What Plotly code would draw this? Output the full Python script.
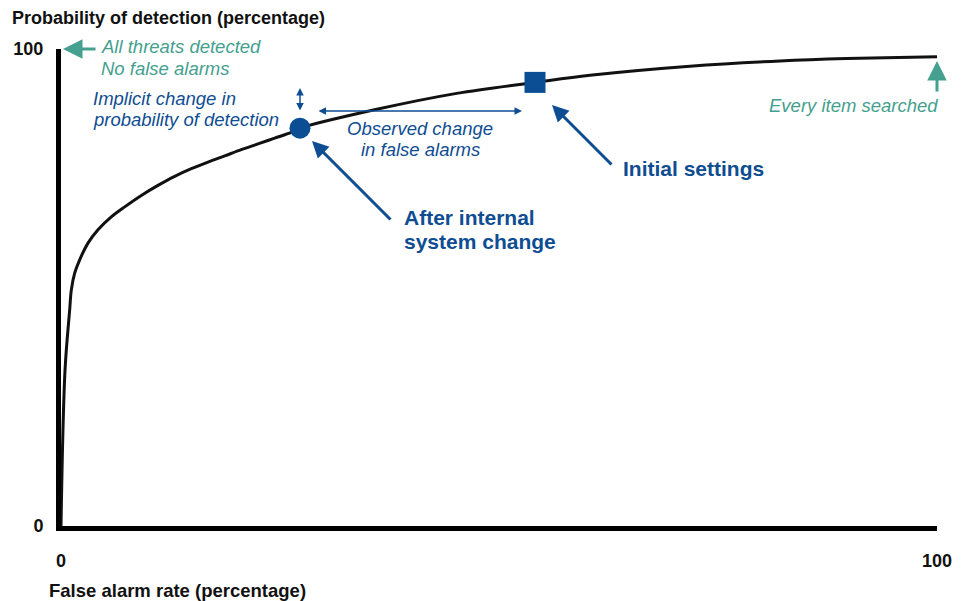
import plotly.graph_objects as go

# ---- data ----
false_alarm = [0, 0.46, 0.99, 1.18, 1.56, 2.13, 3.08, 4.22, 5.74, 7.27, 9.17, 11.07,
               12.98, 14.88, 16.78, 18.69, 20.58, 22.49, 24.39, 26.29, 27.28, 35.65,
               45.17, 54.11, 60.39, 71.8, 82.08, 89.69, 100]
detection = [0, 32.7, 45.3, 49.5, 53.0, 55.8, 59.3, 62.1, 64.8, 66.9, 69.3, 71.4,
             73.3, 74.9, 76.3, 77.6, 78.9, 80.1, 81.3, 82.5, 83.4, 87.2,
             90.7, 93.0, 94.5, 96.4, 97.5, 98.0, 98.4]
after_point = (27.28, 83.4)
initial_point = (54.11, 93.0)
tick_vals = [0, 100]
tick_text = ["0", "100"]

W, H = 970, 601
L, R, T, B = 61, 33, 49, 75
PW, PH = W - L - R, H - T - B

TEAL = "#45A08F"
BLUE = "#0F4D92"
FONT = "Liberation Sans, Arial, sans-serif"


def px(x):
    return (x - L) / PW


def py(y):
    return (H - B - y) / PH


fig = go.Figure()
fig.add_trace(go.Scatter(x=false_alarm, y=detection, mode="lines",
                         line=dict(color="#111111", width=3, shape="spline", smoothing=1.0),
                         hoverinfo="skip", showlegend=False))
fig.add_trace(go.Scatter(x=[after_point[0]], y=[after_point[1]], mode="markers",
                         marker=dict(symbol="circle", size=21, color="#0B4E94"),
                         showlegend=False, cliponaxis=False))
fig.add_trace(go.Scatter(x=[initial_point[0]], y=[initial_point[1]], mode="markers",
                         marker=dict(symbol="square", size=21, color="#0B4E94"),
                         showlegend=False, cliponaxis=False))

ann = []


def text(t, x, y, size, color, anchor="left", bold=False, italic=False):
    ann.append(dict(text=t, x=px(x), y=py(y), xref="paper", yref="paper",
                    xanchor=anchor, yanchor="middle", showarrow=False,
                    font=dict(family=FONT, size=size, color=color,
                              weight="bold" if bold else "normal",
                              style="italic" if italic else "normal")))


def arrow(hx, hy, tx, ty, color, width, size=1.0, head=2, both=False):
    ann.append(dict(text="", x=px(hx), y=py(hy), xref="paper", yref="paper",
                    ax=tx - hx, ay=ty - hy, showarrow=True, arrowcolor=color,
                    arrowwidth=width, arrowsize=size, arrowhead=head,
                    startarrowhead=head, startarrowsize=size,
                    arrowside="end+start" if both else "end",
                    standoff=0, startstandoff=0))


# axis titles
text("Probability of detection (percentage)", 10, 18, 18, "#111111", bold=True)
text("False alarm rate (percentage)", 47, 590, 18.5, "#111111", bold=True)

# teal notes
text("All threats detected", 99, 47, 18.5, TEAL, italic=True)
text("No false alarms", 99, 69, 18.5, TEAL, italic=True)
arrow(63, 49, 97, 49, TEAL, 3, size=1.3)
text("Every item searched", 940, 106, 18.5, TEAL, anchor="right", italic=True)
arrow(937, 61, 937, 93, TEAL, 3, size=1.3)

# blue notes
text("Implicit change in", 91, 98, 18.5, BLUE, italic=True)
text("probability of detection", 91, 119, 18.5, BLUE, italic=True)
arrow(300, 88, 300, 112, BLUE, 1.5, size=1, both=True)
arrow(522, 111, 317, 111, BLUE, 1.5, size=1, both=True)
text("Observed change", 420, 128, 18.5, BLUE, anchor="center", italic=True)
text("in false alarms", 420, 149, 18.5, BLUE, anchor="center", italic=True)

text("After internal", 402, 218, 21, BLUE, bold=True)
text("system change", 402, 242, 21, BLUE, bold=True)
arrow(312, 141, 392, 221, BLUE, 3, size=1.1)
text("Initial settings", 621, 168, 21, BLUE, bold=True)
arrow(552, 105, 613, 166, BLUE, 3, size=1.1)

fig.update_layout(
    width=W, height=H,
    margin=dict(l=L, r=R, t=T, b=B, autoexpand=False),
    paper_bgcolor="white", plot_bgcolor="white",
    font=dict(family=FONT, color="#111111"),
    annotations=ann,
    showlegend=False,
)
fig.update_xaxes(range=[0, 100], showgrid=False, zeroline=False, showline=True,
                 linewidth=5, linecolor="#000000", tickvals=tick_vals, ticktext=tick_text,
                 ticks="", ticklabelstandoff=14,
                 tickfont=dict(family=FONT, size=18, weight="bold", color="#111111"))
fig.update_yaxes(range=[0, 100], showgrid=False, zeroline=False, showline=True,
                 linewidth=5, linecolor="#000000", tickvals=tick_vals, ticktext=tick_text,
                 ticks="", ticklabelstandoff=9,
                 tickfont=dict(family=FONT, size=18, weight="bold", color="#111111"))

fig.write_html("out.html",
               config={"displayModeBar": False},
               post_script="document.body.style.margin='0';"
                           "document.documentElement.style.overflow='hidden';")
